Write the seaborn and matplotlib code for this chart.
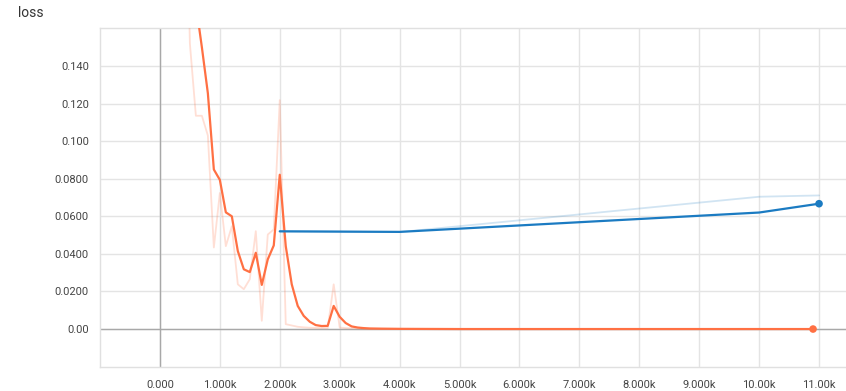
import matplotlib
matplotlib.use("Agg")
import matplotlib.pyplot as plt
import seaborn as sns
import pandas as pd

# ---------------- data ----------------
orange_steps = [400, 500, 600, 700, 800, 900, 1000, 1100, 1200, 1300, 1400, 1500,
                1600, 1700, 1800, 1900, 2000, 2100, 2200, 2300, 2400, 2500, 2600,
                2700, 2800, 2900, 3000, 3100, 3200, 3300, 3400, 3500, 3700, 4000,
                5000, 6000, 7000, 8000, 9000, 10000, 10900]
orange_raw = [0.300, 0.152, 0.1135, 0.1135, 0.1030, 0.0434, 0.0724, 0.0441, 0.0547,
              0.0238, 0.0212, 0.0265, 0.0521, 0.0044, 0.0503, 0.0530, 0.1218, 0.0026,
              0.0019, 0.0012, 0.0009, 0.0007, 0.0006, 0.0005, 0.0005, 0.0238, 0.0008,
              0.0005, 0.0004, 0.0003, 0.0002, 0.0002, 0.0001, 0.0001,
              0.0, 0.0, 0.0, 0.0, 0.0, 0.0, 0.0]
orange_smooth = [0.260, 0.220, 0.173, 0.150, 0.1255, 0.0849, 0.0794, 0.0621, 0.0600,
                 0.0415, 0.0318, 0.0303, 0.0406, 0.0235, 0.0371, 0.0445, 0.0821, 0.0441,
                 0.0238, 0.0123, 0.0070, 0.0039, 0.0021, 0.0016, 0.0017, 0.0123, 0.0065,
                 0.0032, 0.0014, 0.0008, 0.0005, 0.0003, 0.0002, 0.0001,
                 0.0, 0.0, 0.0, 0.0, 0.0, 0.0, 0.0]

blue_steps = [2000, 4000, 10000, 11000]
blue_raw = [0.0520, 0.0516, 0.0704, 0.0711]
blue_smooth = [0.0520, 0.0517, 0.0620, 0.0667]

x_ticks = [0, 1000, 2000, 3000, 4000, 5000, 6000, 7000, 8000, 9000, 10000, 11000]
x_tick_labels = ["0.000", "1.000k", "2.000k", "3.000k", "4.000k", "5.000k", "6.000k",
                 "7.000k", "8.000k", "9.000k", "10.00k", "11.00k"]
y_ticks = [0.0, 0.02, 0.04, 0.06, 0.08, 0.10, 0.12, 0.14]
y_tick_labels = ["0.00", "0.0200", "0.0400", "0.0600", "0.0800", "0.100", "0.120", "0.140"]

ORANGE = "#ff7043"
BLUE = "#1b7bc2"

# ---------------- figure ----------------
sns.set_style("white")
plt.rcParams["font.family"] = ["Roboto", "DejaVu Sans"]

fig = plt.figure(figsize=(8.46, 3.91), dpi=100)
ax = fig.add_axes([100 / 846, 24 / 391, 746 / 846, 339 / 391])

orange_df = pd.DataFrame({"step": orange_steps, "raw": orange_raw, "smooth": orange_smooth})
blue_df = pd.DataFrame({"step": blue_steps, "raw": blue_raw, "smooth": blue_smooth})

sns.lineplot(data=orange_df, x="step", y="raw", ax=ax, color=ORANGE, alpha=0.22,
             linewidth=1.3, zorder=3)
sns.lineplot(data=blue_df, x="step", y="raw", ax=ax, color=BLUE, alpha=0.2,
             linewidth=1.3, zorder=3)
sns.lineplot(data=orange_df, x="step", y="smooth", ax=ax, color=ORANGE,
             linewidth=1.6, zorder=4)
sns.lineplot(data=blue_df, x="step", y="smooth", ax=ax, color=BLUE,
             linewidth=1.6, zorder=4)
sns.scatterplot(data=orange_df.tail(1), x="step", y="smooth", ax=ax, color=ORANGE,
                s=30, edgecolor="none", zorder=5)
sns.scatterplot(data=blue_df.tail(1), x="step", y="smooth", ax=ax, color=BLUE,
                s=30, edgecolor="none", zorder=5)

ax.set_xlim(-1000, 11450)
ax.set_ylim(-0.0202, 0.1602)
ax.set_xticks(x_ticks)
ax.set_xticklabels(x_tick_labels)
ax.set_yticks(y_ticks)
ax.set_yticklabels(y_tick_labels)
ax.set_xlabel("")
ax.set_ylabel("")
ax.tick_params(axis="both", length=0, labelsize=8, colors="#444444")
ax.tick_params(axis="x", pad=9)
ax.tick_params(axis="y", pad=8)

ax.grid(True, color="#e4e4e4", linewidth=1.0, zorder=0)
ax.set_axisbelow(True)
ax.axhline(0, color="#a8a8a8", linewidth=1.0, zorder=1)
ax.axvline(0, color="#a8a8a8", linewidth=1.0, zorder=1)

for side in ["left", "top", "bottom"]:
    ax.spines[side].set_color("#e0e0e0")
    ax.spines[side].set_linewidth(1.0)
ax.spines["right"].set_visible(False)

fig.text(18 / 846, 1 - 13 / 391, "loss", fontsize=10, color="#333333", va="center",
         ha="left")

fig.savefig("out.png", dpi=100)
